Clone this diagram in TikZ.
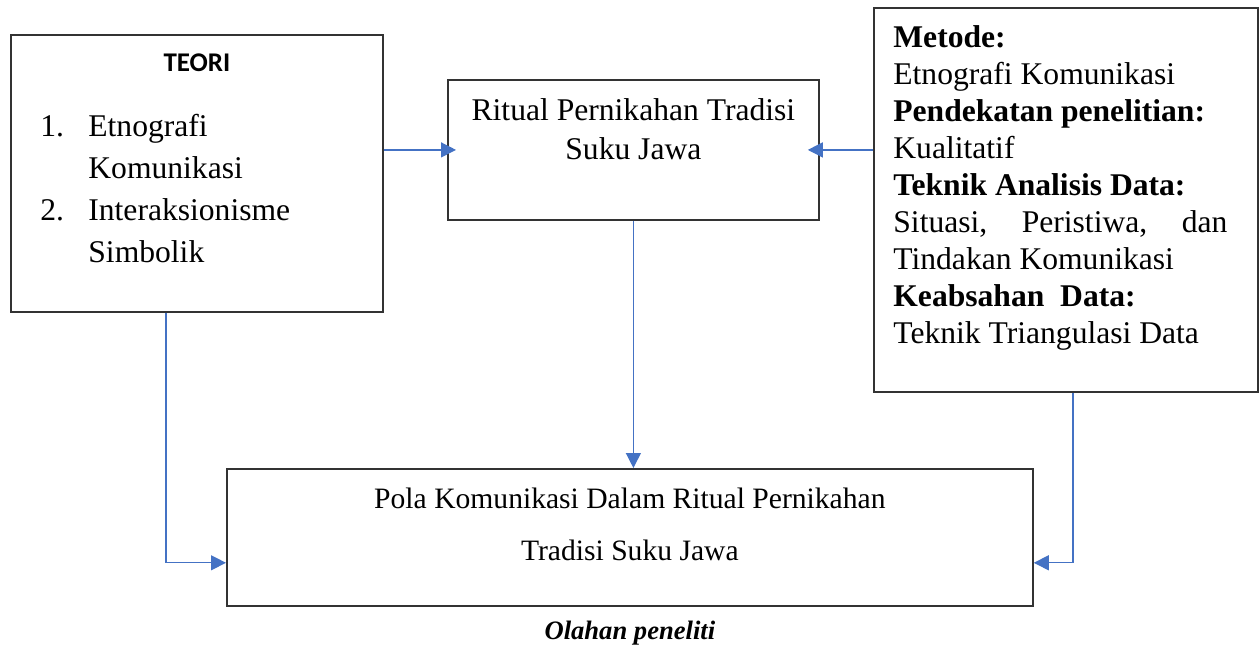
\documentclass[tikz,border=0pt]{standalone}
\usepackage{fontspec}
\setmainfont{Liberation Serif}
\newfontfamily\calibri{Carlito}
\usetikzlibrary{arrows.meta,positioning}
\definecolor{linkblue}{HTML}{4472C4}

\begin{document}
\begin{tikzpicture}[x=0.5pt,y=-0.5pt,
  box/.style={draw=black!80,line width=0.9pt,rectangle,anchor=north west,inner sep=0pt},
  conn/.style={draw=linkblue,line width=0.65pt,-{Triangle[length=7.5pt,width=7.5pt]}},
  txt/.style={inner sep=0pt}]
 \useasboundingbox (0,0) rectangle (1260,647);
 \node[box,minimum width=186pt,minimum height=138.5pt] (teori) at (10,34) {};
 \node[box,minimum width=185.5pt,minimum height=70pt] (ritual) at (447,79) {};
 \node[box,minimum width=192pt,minimum height=192pt] (metode) at (873,7) {};
 \node[box,minimum width=403pt,minimum height=68.5pt] (pola) at (226,468) {};
 \node[txt,below=9.5pt of teori.north,font=\calibri\bfseries\fontsize{13.5}{16}\selectfont] (teorititle) {TEORI};
 \node[txt,below right=40pt and 15pt of teori.north west,align=left,font=\fontsize{15.8}{21}\selectfont] (teorilist)
  {\makebox[24pt][l]{1.}Etnografi\\ \hspace*{24pt}Komunikasi\\ \makebox[24pt][l]{2.}Interaksionisme\\ \hspace*{24pt}Simbolik};
 \node[txt,below=9.7pt of ritual.north,align=center,font=\fontsize{15.8}{19.5}\selectfont] (ritualtext)
  {Ritual Pernikahan Tradisi\\ Suku Jawa};
 \node[txt,below right=9.3pt and 10pt of metode.north west,align=left,font=\fontsize{15.8}{18.45}\selectfont] (metodetext)
  {\textbf{Metode:}\\ Etnografi Komunikasi\\ \textbf{Pendekatan penelitian:}\\ Kualitatif\\
   \textbf{Teknik Analisis Data:}\\ \makebox[167pt][s]{Situasi, Peristiwa, dan}\\ Tindakan Komunikasi\\
   \textbf{Keabsahan\ \ Data:}\\ Teknik Triangulasi Data};
 \node[txt,below=10pt of pola.north,align=center,font=\fontsize{14.8}{26}\selectfont] (polatext)
  {Pola Komunikasi Dalam Ritual Pernikahan\\ Tradisi Suku Jawa};
 \node[txt,below=6.7pt of pola.south,font=\bfseries\itshape\fontsize{13.3}{16}\selectfont] (caption) {Olahan peneliti};
 \draw[conn,shorten >=-4.5pt] (teori.east |- ritual.west) -- (ritual.west);
 \draw[conn,shorten >=-6pt] (metode.west |- ritual.east) -- (ritual.east);
 \draw[conn] (ritual.south) -- (ritual.south |- pola.north);
 \draw[conn] ([xshift=-15.5pt]teori.south) |- ([yshift=22pt]pola.south west);
 \draw[conn] ([xshift=3.5pt]metode.south) |- ([yshift=22pt]pola.south east);
\end{tikzpicture}
\end{document}
